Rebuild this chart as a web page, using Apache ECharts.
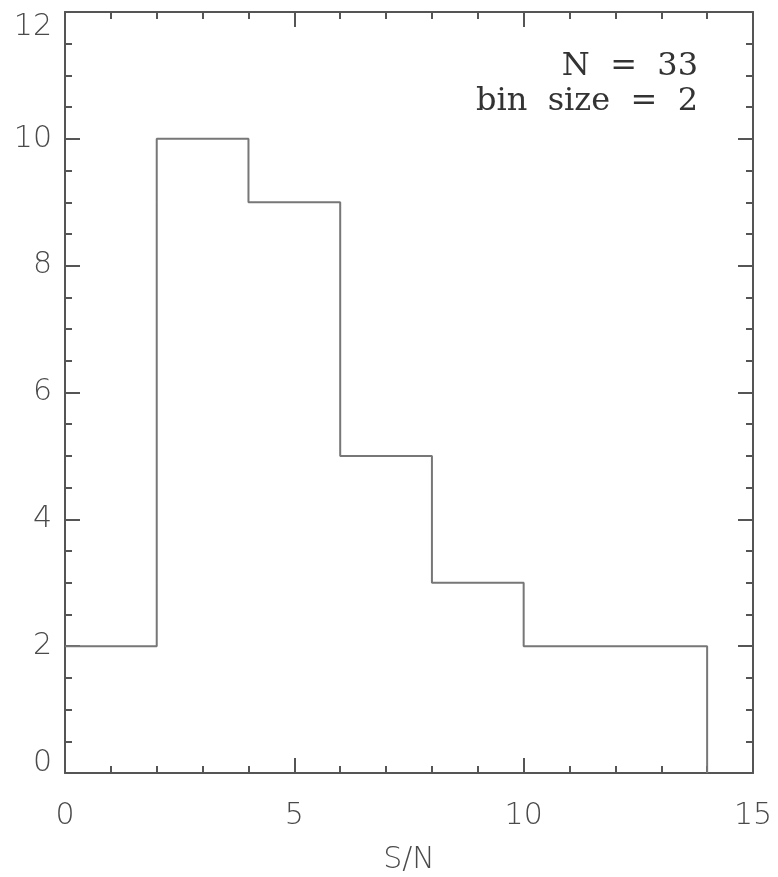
<!DOCTYPE html>
<html>
<head>
<meta charset="utf-8">
<script src="https://cdn.jsdelivr.net/npm/echarts@6/dist/echarts.min.js"></script>
<style>
  html, body { margin: 0; padding: 0; background: #fff; }
  #chart { width: 778px; height: 877px; }
</style>
</head>
<body>
<div id="chart"></div>
<script>
// Histogram of S/N values, bin width 2
const binEdges = [0, 2, 4, 6, 8, 10, 12, 14];
const counts = [2, 10, 9, 5, 3, 2, 2];
const xTicks = [0, 5, 10, 15];
const yTicks = [0, 2, 4, 6, 8, 10, 12];
const annotation = ['N  =  33', 'bin  size  =  2'];

// Outline of the histogram as a stepped path
const outline = [];
for (let i = 0; i < counts.length; i++) {
  outline.push([binEdges[i], counts[i]]);
  outline.push([binEdges[i + 1], counts[i]]);
}
outline.push([binEdges[binEdges.length - 1], 0]);

const axisColor = '#555';
const labelFont = { fontFamily: 'DejaVu Sans', fontSize: 30, fontWeight: 200, color: '#4a4a4a' };

function axisBase(extra) {
  return Object.assign({
    type: 'value',
    axisLine: { show: true, onZero: false, lineStyle: { color: axisColor, width: 2 } },
    axisTick: { show: true, inside: true, length: 15, lineStyle: { color: axisColor, width: 2 } },
    minorTick: { show: true, length: 7, lineStyle: { color: axisColor, width: 2 } },
    splitLine: { show: false }
  }, extra);
}

const chart = echarts.init(document.getElementById('chart'));
chart.setOption({
  animation: false,
  grid: { left: 65, right: 25, top: 12, bottom: 104, containLabel: false, outerBoundsMode: 'none' },
  xAxis: [
    axisBase({
      min: xTicks[0], max: xTicks[xTicks.length - 1], interval: 5, position: 'bottom',
      minorTick: { show: true, splitNumber: 5, length: 7, lineStyle: { color: axisColor, width: 2 } },
      axisLabel: Object.assign({ margin: 28 }, labelFont),
      name: 'S/N', nameLocation: 'middle', nameGap: 72,
      nameTextStyle: labelFont
    }),
    axisBase({
      min: xTicks[0], max: xTicks[xTicks.length - 1], interval: 5, position: 'top',
      minorTick: { show: true, splitNumber: 5, length: 7, lineStyle: { color: axisColor, width: 2 } },
      axisLabel: { show: false }
    })
  ],
  yAxis: [
    axisBase({
      min: yTicks[0], max: yTicks[yTicks.length - 1], interval: 2, position: 'left',
      minorTick: { show: true, splitNumber: 4, length: 7, lineStyle: { color: axisColor, width: 2 } },
      axisLabel: Object.assign({
        margin: 13,
        verticalAlignMinLabel: 'bottom',
        verticalAlignMaxLabel: 'top',
        formatter: (v) => (v === yTicks[0] ? '{lo|' + v + '}' : String(v)),
        rich: { lo: Object.assign({ lineHeight: 20 }, labelFont) }
      }, labelFont)
    }),
    axisBase({
      min: yTicks[0], max: yTicks[yTicks.length - 1], interval: 2, position: 'right',
      minorTick: { show: true, splitNumber: 4, length: 7, lineStyle: { color: axisColor, width: 2 } },
      axisLabel: { show: false }
    })
  ],
  series: [{
    type: 'line',
    data: outline,
    symbol: 'none',
    lineStyle: { color: '#777', width: 2 },
    z: 3
  }],
  graphic: annotation.map((line, i) => ({
    type: 'text',
    x: 698,
    y: 67 + i * 35,
    style: {
      text: line,
      align: 'right',
      verticalAlign: 'middle',
      fontFamily: 'DejaVu Serif',
      fontSize: 32,
      fill: '#333'
    }
  }))
});
</script>
</body>
</html>
